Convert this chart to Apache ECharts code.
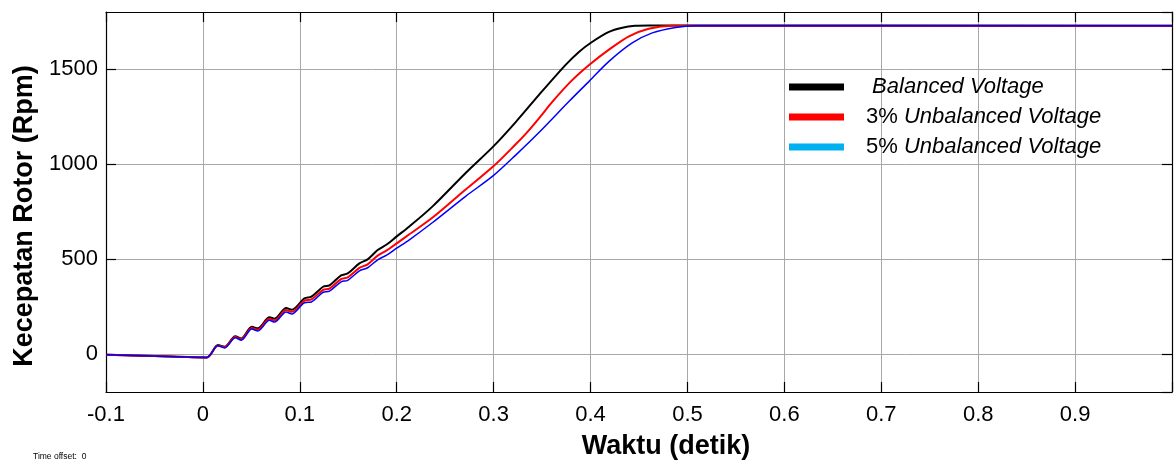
<!DOCTYPE html>
<html>
<head>
<meta charset="utf-8">
<script src="https://cdn.jsdelivr.net/npm/echarts@6/dist/echarts.min.js"></script>
<style>html,body{margin:0;padding:0;background:#fff}#c{width:1175px;height:465px}</style>
</head>
<body>
<div id="c"></div>
<script>
const seriesNames = [' Balanced Voltage', '3% Unbalanced Voltage', '5% Unbalanced Voltage'];
const tBlack = [-0.1, -0.05, 0.004, 0.0155, 0.0224, 0.0334, 0.0396, 0.0505, 0.0567, 0.0687, 0.0739, 0.0859, 0.0917, 0.1048, 0.112, 0.124, 0.1306, 0.1426, 0.1494, 0.1615, 0.170, 0.1803, 0.1896, 0.2, 0.213, 0.237, 0.2714, 0.3, 0.323, 0.347, 0.3745, 0.388, 0.4, 0.419, 0.4328, 0.446, 0.46, 1.0];
const vBlack = [-4, -11, -18, 47, 38, 93, 82, 143, 135, 193, 186, 242, 233, 293, 302, 354, 361, 414, 424, 477, 498, 547, 576, 619, 671, 777, 954, 1094, 1222, 1365, 1523, 1590, 1637, 1695, 1717, 1727, 1729, 1728];
const tRed = [-0.1, -0.05, 0.004, 0.0155, 0.0224, 0.0334, 0.0396, 0.0505, 0.0567, 0.0687, 0.0739, 0.0859, 0.0917, 0.1048, 0.112, 0.124, 0.1306, 0.1426, 0.1494, 0.1615, 0.170, 0.1803, 0.1896, 0.2, 0.213, 0.237, 0.2714, 0.3, 0.323, 0.3333, 0.347, 0.3607, 0.38, 0.3985, 0.419, 0.4396, 0.46, 0.4843, 1.0];
const vRed = [-4, -11, -18, 45, 35, 89, 78, 137, 128, 185, 177, 231, 222, 281, 287, 337, 344, 394, 403, 453, 472, 518, 545, 582, 630, 718, 867, 989, 1105, 1160, 1242, 1328, 1436, 1521, 1602, 1672, 1712, 1728, 1728];
const tBlue = [-0.1, -0.05, 0.004, 0.0155, 0.0224, 0.0334, 0.0396, 0.0505, 0.0567, 0.0687, 0.0739, 0.0859, 0.0917, 0.1048, 0.112, 0.124, 0.1306, 0.1426, 0.1494, 0.1615, 0.170, 0.1803, 0.1896, 0.2, 0.213, 0.237, 0.2714, 0.3, 0.323, 0.347, 0.3779, 0.3985, 0.419, 0.443, 0.4637, 0.4878, 0.5085, 1.0];
const vBlue = [-4, -11, -18, 43, 32, 85, 73, 131, 121, 177, 168, 221, 211, 270, 274, 325, 331, 380, 388, 438, 454, 496, 520, 557, 601, 692, 831, 940, 1048, 1167, 1330, 1435, 1540, 1637, 1690, 1719, 1728, 1728];
const yTickLabels = [0, 500, 1000, 1500];
const xTickLabels = [-0.1, 0, 0.1, 0.2, 0.3, 0.4, 0.5, 0.6, 0.7, 0.8, 0.9];

const zip = (t, v) => t.map((x, i) => [x, v[i]]);
const FONT = '"Liberation Sans", Arial, sans-serif';

const chart = echarts.init(document.getElementById('c'), null, {renderer: 'canvas'});
const lineStyleAxis = {show: true, onZero: false, lineStyle: {color: '#000', width: 1.2}};
const tickStyle = {show: true, inside: true, length: 10, lineStyle: {color: '#000', width: 1.2}};
const frameAxisBase = {
  axisLine: lineStyleAxis,
  axisTick: tickStyle,
  axisLabel: {show: false},
  splitLine: {show: false}
};
chart.setOption({
  animation: false,
  backgroundColor: '#fff',
  grid: {left: 106, right: 1, top: 12, bottom: 73, containLabel: false},
  xAxis: [
    {
      type: 'value', min: -0.1, max: 1.0, interval: 0.1, position: 'bottom',
      name: 'Waktu (detik)', nameLocation: 'middle', nameGap: 41,
      nameTextStyle: {fontFamily: FONT, fontWeight: 'bold', fontSize: 27, color: '#000', padding: [0, 0, 0, 54]},
      axisLine: lineStyleAxis,
      axisTick: tickStyle,
      axisLabel: {
        fontFamily: FONT, fontSize: 22, color: '#000', margin: 12,
        formatter: v => {
          const r = Math.round(v * 10) / 10;
          return xTickLabels.indexOf(r) >= 0 ? String(r) : '';
        }
      },
      splitLine: {show: true, lineStyle: {color: '#a8a8a8', width: 1}}
    },
    Object.assign({type: 'value', min: -0.1, max: 1.0, interval: 0.1, position: 'top'}, frameAxisBase)
  ],
  yAxis: [
    {
      type: 'value', min: -200, max: 1800, splitNumber: 4, position: 'left',
      name: 'Kecepatan Rotor (Rpm)', nameLocation: 'middle', nameGap: 68,
      nameTextStyle: {fontFamily: FONT, fontWeight: 'bold', fontSize: 27, color: '#000', padding: [0, 28, 0, 0]},
      axisLine: lineStyleAxis,
      axisTick: tickStyle,
      axisLabel: {
        fontFamily: FONT, fontSize: 22, color: '#000', margin: 8, padding: [5, 0, 0, 0],
        showMinLabel: false, showMaxLabel: false,
        formatter: v => yTickLabels.indexOf(Math.round(v)) >= 0 ? String(Math.round(v)) : ''
      },
      splitLine: {show: true, lineStyle: {color: '#a8a8a8', width: 1}}
    },
    Object.assign({type: 'value', min: -200, max: 1800, splitNumber: 4, position: 'right'}, frameAxisBase)
  ],
  legend: {
    orient: 'vertical', left: 784, top: 71, itemGap: 8, itemWidth: 55, itemHeight: 7, icon: 'rect',
    selectedMode: false,
    data: [
      {name: seriesNames[0], itemStyle: {color: '#000000'}},
      {name: seriesNames[1], itemStyle: {color: '#ff0000'}},
      {name: seriesNames[2], itemStyle: {color: '#00b0f0'}}
    ],
    textStyle: {
      fontFamily: FONT, fontSize: 22, color: '#000', padding: [0, 0, 0, 17],
      rich: {
        n: {fontFamily: FONT, fontSize: 22, color: '#000', lineHeight: 22},
        i: {fontFamily: FONT, fontSize: 22, color: '#000', fontStyle: 'italic', lineHeight: 22}
      }
    },
    formatter: name => {
      const m = name.match(/^(\d+% )(.*)$/);
      return m ? '{n|' + m[1] + '}{i|' + m[2] + '}' : '{i|' + name + '}';
    }
  },
  graphic: [
    {type: 'text', left: 33, top: 452, style: {text: 'Time offset:  0', fontFamily: FONT, fontSize: 8.5, fill: '#000'}}
  ],
  series: [
    {name: seriesNames[0], type: 'line', data: zip(tBlack, vBlack), symbol: 'none', smooth: 0.3,
     lineStyle: {color: '#000000', width: 2}, itemStyle: {color: '#000000'}, z: 2},
    {name: seriesNames[1], type: 'line', data: zip(tRed, vRed), symbol: 'none', smooth: 0.3,
     lineStyle: {color: '#ff0000', width: 2}, itemStyle: {color: '#ff0000'}, z: 3},
    {name: seriesNames[2], type: 'line', data: zip(tBlue, vBlue), symbol: 'none', smooth: 0.3,
     lineStyle: {color: '#0000ff', width: 1.5}, itemStyle: {color: '#00b0f0'}, z: 4}
  ]
});
</script>
</body>
</html>
